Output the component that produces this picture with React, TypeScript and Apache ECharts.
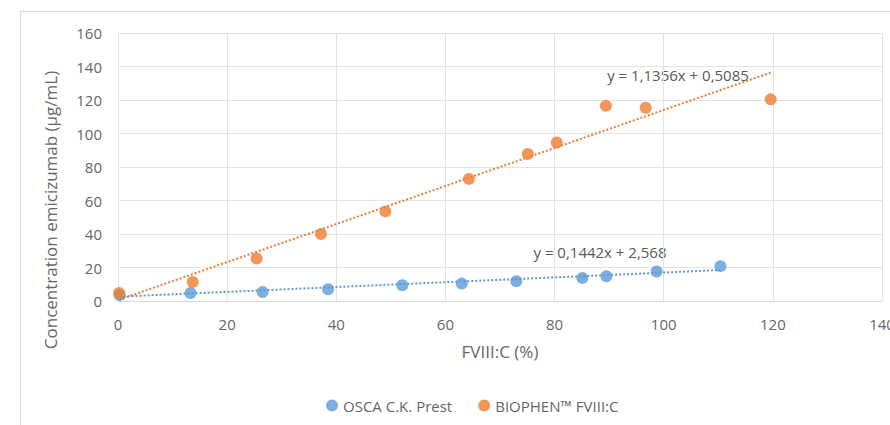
import React, { useEffect, useRef } from "react";
import * as echarts from "echarts";

const oscaX = [0.3, 13.3, 26.5, 38.5, 52.1, 63, 73, 85.1, 89.5, 98.7, 110.4];
const oscaY = [3.5, 4.8, 5.4, 7, 9.4, 10.4, 11.8, 13.8, 14.8, 17.6, 20.8];
const biophenX = [0.2, 13.7, 25.4, 37.2, 49, 64.3, 75.1, 80.4, 89.4, 96.7, 119.6];
const biophenY = [4.8, 11.4, 25.4, 40, 53.5, 72.9, 87.8, 94.6, 116.5, 115.4, 120.4];
const oscaFit = { slope: 0.1442, intercept: 2.568, label: "y = 0,1442x + 2,568" };
const biophenFit = { slope: 1.1356, intercept: 0.5085, label: "y = 1,1356x + 0,5085" };
const seriesNames = ["OSCA C.K. Prest", "BIOPHEN\u2122 FVIII:C"];
const xTicks = [0, 20, 40, 60, 80, 100, 120, 140];
const yTicks = [0, 20, 40, 60, 80, 100, 120, 140, 160];

const BLUE = "#5B9BD5";
const ORANGE = "#ED7D31";
const TXT = "#666666";
const FONT = "Open Sans";

function fitLine(xs: number[], fit: { slope: number; intercept: number }) {
  const x0 = Math.min(...xs);
  const x1 = Math.max(...xs);
  return [
    [x0, fit.slope * x0 + fit.intercept],
    [x1, fit.slope * x1 + fit.intercept],
  ];
}

export default function App() {
  const ref = useRef<HTMLDivElement>(null);
  useEffect(() => {
    if (!ref.current) return;
    const chart = echarts.init(ref.current, undefined, { renderer: "svg" });
    chart.setOption({
      animation: false,
      backgroundColor: "#ffffff",
      textStyle: { fontFamily: FONT },
      grid: {
        left: 118,
        right: 8,
        top: 33,
        bottom: 124,
        containLabel: false,
        outerBoundsMode: "none",
      },
      xAxis: {
        type: "value",
        min: xTicks[0],
        max: xTicks[xTicks.length - 1],
        interval: 20,
        name: "FVIII:C (%)",
        nameLocation: "middle",
        nameGap: 42,
        nameTextStyle: { color: TXT, fontSize: 17, fontFamily: FONT },
        axisLine: { show: true, lineStyle: { color: "#d9d9d9", width: 1 } },
        axisTick: { show: false },
        axisLabel: { color: TXT, fontSize: 15, margin: 15, fontFamily: FONT },
        splitLine: { show: true, lineStyle: { color: "#e3e3e3", width: 1 } },
      },
      yAxis: {
        type: "value",
        min: yTicks[0],
        max: yTicks[yTicks.length - 1],
        interval: 20,
        axisLine: { show: false },
        axisTick: { show: false },
        axisLabel: { color: TXT, fontSize: 15, margin: 16, fontFamily: FONT },
        splitLine: { show: true, lineStyle: { color: "#e3e3e3", width: 1 } },
      },
      legend: {
        data: seriesNames,
        left: 321,
        top: 393,
        icon: "circle",
        itemWidth: 12,
        itemHeight: 12,
        itemGap: 26,
        textStyle: { color: TXT, fontSize: 15, fontFamily: FONT },
      },
      graphic: [
        {
          type: "rect",
          shape: { x: 20.5, y: 11.5, width: 880, height: 420 },
          style: { fill: "none", stroke: "#d9d9d9", lineWidth: 1 },
          silent: true,
        },
        {
          type: "text",
          x: 50,
          y: 210,
          rotation: Math.PI / 2,
          style: {
            text: "Concentration emicizumab (\u00b5g/mL)",
            fill: TXT,
            font: `17px '${FONT}'`,
            textAlign: "center",
            textVerticalAlign: "middle",
          },
        },
        {
          type: "text",
          x: 678,
          y: 75,
          style: {
            text: biophenFit.label,
            fill: "#595959",
            font: `15px '${FONT}'`,
            textAlign: "center",
            textVerticalAlign: "middle",
          },
        },
        {
          type: "text",
          x: 600,
          y: 252,
          style: {
            text: oscaFit.label,
            fill: "#595959",
            font: `15px '${FONT}'`,
            textAlign: "center",
            textVerticalAlign: "middle",
          },
        },
      ],
      series: [
        {
          name: "oscaFit",
          type: "line",
          data: fitLine(oscaX, oscaFit),
          symbol: "none",
          lineStyle: { color: BLUE, width: 2, type: [2, 2] },
          silent: true,
          z: 1,
        },
        {
          name: "biophenFit",
          type: "line",
          data: fitLine(biophenX, biophenFit),
          symbol: "none",
          lineStyle: { color: ORANGE, width: 2, type: [2, 2] },
          silent: true,
          z: 1,
        },
        {
          name: seriesNames[0],
          type: "scatter",
          data: oscaX.map((x, i) => [x, oscaY[i]]),
          symbol: "circle",
          symbolSize: 12,
          itemStyle: { color: BLUE },
          z: 2,
        },
        {
          name: seriesNames[1],
          type: "scatter",
          data: biophenX.map((x, i) => [x, biophenY[i]]),
          symbol: "circle",
          symbolSize: 12,
          itemStyle: { color: ORANGE },
          z: 3,
        },
      ],
    });
    return () => chart.dispose();
  }, []);
  return (
    <div
      ref={ref}
      style={{ position: "fixed", left: 0, top: 0, width: 890, height: 425 }}
    />
  );
}
